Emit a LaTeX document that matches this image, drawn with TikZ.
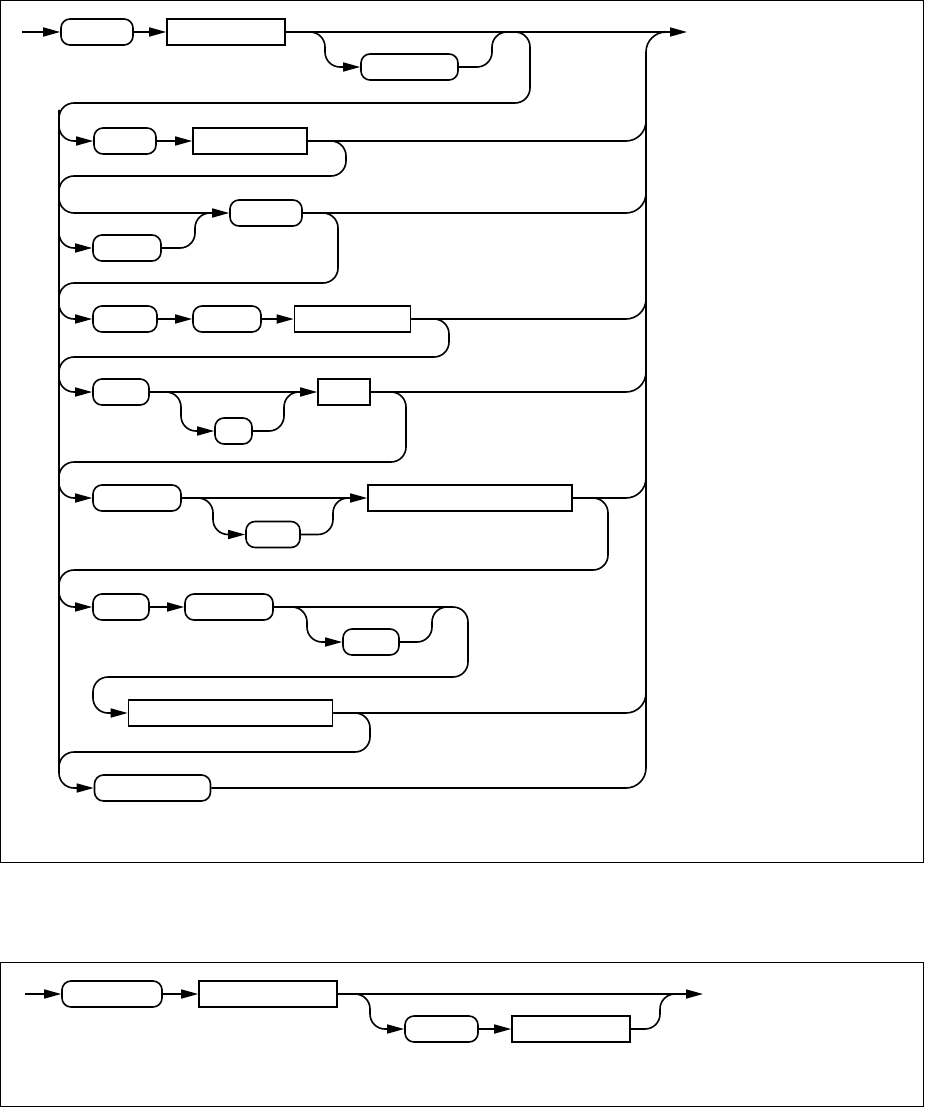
\documentclass[tikz,border=0pt]{standalone}
\usepackage{tikz}
\usetikzlibrary{arrows.meta}

\begin{document}
\begin{tikzpicture}[
  x=1pt, y=-1pt, line width=1.6pt,
  term/.style={draw, rounded corners=9pt, minimum height=26pt, inner sep=0pt},
  nterm/.style={draw, minimum height=26pt, inner sep=0pt},
  arr/.style={-{Triangle[length=17pt,width=9pt]}},
  rc/.style={rounded corners=15pt},
  bus/.style={rounded corners=20pt},
  frm/.style={line width=0.9pt}
]
\useasboundingbox (0,0) rectangle (925,1107);
\draw[frm] (0.5,0.5) rectangle (923.5,862);
\draw[frm] (0.5,962) rectangle (923.5,1106.5);

% first diagram
\coordinate (in1) at (22,32);
\coordinate (out1) at (687,32);
\node[term, minimum width=72pt] (t1) at (97,32) {};
\node[nterm, minimum width=118pt] (n1) at (226,32) {};
\node[term, minimum width=97pt] (t2) at (409.5,67) {};
\node[term, minimum width=62pt] (t3) at (125,141) {};
\node[nterm, minimum width=114pt] (n2) at (250,141) {};
\node[term, minimum width=72pt] (t4) at (266,213) {};
\node[term, minimum width=68pt] (t5) at (127,248) {};
\node[term, minimum width=64pt] (t6) at (125,319) {};
\node[term, minimum width=68pt] (t7) at (227,319) {};
\node[nterm, minimum width=116pt] (n3) at (352.5,319) {};
\node[term, minimum width=56pt] (t8) at (121,392) {};
\node[term, minimum width=37pt] (t9) at (233.5,431) {};
\node[nterm, minimum width=52pt] (n4) at (344,392) {};
\node[term, minimum width=88pt] (t10) at (137,498) {};
\node[term, minimum width=54pt] (t11) at (273,534.5) {};
\node[nterm, minimum width=204pt] (n5) at (470,498) {};
\node[term, minimum width=56pt] (t12) at (121,607) {};
\node[term, minimum width=88pt] (t13) at (229,607) {};
\node[term, minimum width=56pt] (t14) at (371,642) {};
\node[nterm, minimum width=204pt] (n6) at (230.5,713) {};
\node[term, minimum width=116pt] (t15) at (152.5,788) {};

\draw[arr] (in1) -- (t1);
\draw[arr] (t1) -- (n1);
\draw[arr] (n1) -- (out1);
\draw[arr, rc] (n1.east) -- (325,32) -- (325,67) -- (t2.west);
\draw[rc] (t2.east) -- (492,67) -- (492,32) -- (510,32);
% left and right bus
\draw[arr, rc] (480,32) -- (530,32) -- (530,103) -- (59,103) -- (59,788) -- (t15.west);
\draw[bus] (t15.east) -- (646,788) -- (646,32) -- (670,32);

\draw[arr, rc] (59,110) -- (59,141) -- (t3.west);
\draw[arr] (t3) -- (n2);
\draw[bus] (n2.east) -- (646,141) -- (646,100);
\draw[rc] (n2.east) -- (346,141) -- (346,176) -- (59,176) -- (59,200);

\draw[arr, rc] (59,190) -- (59,213) -- (t4.west);
\draw[arr, rc] (59,220) -- (59,248) -- (t5.west);
\draw[rc] (t5.east) -- (195,248) -- (195,213) -- (215,213);
\draw[bus] (t4.east) -- (646,213) -- (646,180);
\draw[rc] (t4.east) -- (338,213) -- (338,283) -- (59,283) -- (59,300);

\draw[arr, rc] (59,295) -- (59,319) -- (t6.west);
\draw[arr] (t6) -- (t7);
\draw[arr] (t7) -- (n3);
\draw[bus] (n3.east) -- (646,319) -- (646,290);
\draw[rc] (n3.east) -- (449,319) -- (449,357) -- (59,357) -- (59,375);

\draw[arr, rc] (59,370) -- (59,392) -- (t8.west);
\draw[arr] (t8) -- (n4);
\draw[arr, rc] (t8.east) -- (181,392) -- (181,431) -- (t9.west);
\draw[rc] (t9.east) -- (284,431) -- (284,392) -- (300,392);
\draw[bus] (n4.east) -- (646,392) -- (646,360);
\draw[rc] (n4.east) -- (406,392) -- (406,462) -- (59,462) -- (59,480);

\draw[arr, rc] (59,475) -- (59,498) -- (t10.west);
\draw[arr] (t10) -- (n5);
\draw[arr, rc] (t10.east) -- (213,498) -- (213,534.5) -- (t11.west);
\draw[rc] (t11.east) -- (333,534.5) -- (333,498) -- (350,498);
\draw[bus] (n5.east) -- (646,498) -- (646,470);
\draw[rc] (n5.east) -- (608,498) -- (608,570) -- (59,570) -- (59,590);

\draw[arr, rc] (59,585) -- (59,607) -- (t12.west);
\draw[arr] (t12) -- (t13);
\draw[arr, rc] (t13.east) -- (307,607) -- (307,642) -- (t14.west);
\draw[rc] (t14.east) -- (432,642) -- (432,607) -- (450,607);
\draw[arr, rc] (t13.east) -- (468,607) -- (468,677) -- (93,677) -- (93,713) -- (n6.west);
\draw[bus] (n6.east) -- (646,713) -- (646,680);
\draw[rc] (n6.east) -- (370,713) -- (370,752) -- (59,752) -- (59,770);

% second diagram
\coordinate (in2) at (25,994);
\coordinate (out2) at (703,994);
\node[term, minimum width=100pt] (ta) at (112,994) {};
\node[nterm, minimum width=138pt] (nb) at (268,994) {};
\node[term, minimum width=73pt] (tc) at (441.5,1029) {};
\node[nterm, minimum width=118pt] (nd) at (571,1029) {};
\draw[arr] (in2) -- (ta);
\draw[arr] (ta) -- (nb);
\draw[arr] (nb) -- (out2);
\draw[arr, rc] (nb.east) -- (370,994) -- (370,1029) -- (tc.west);
\draw[arr] (tc) -- (nd);
\draw[rc] (nd.east) -- (660,1029) -- (660,994) -- (680,994);
\end{tikzpicture}
\end{document}
